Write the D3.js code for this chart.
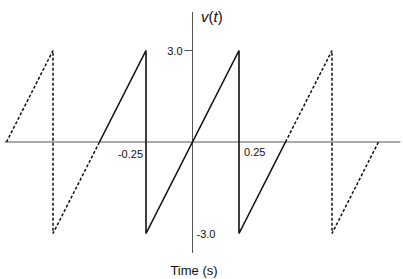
<!DOCTYPE html>
<html>
<head>
<meta charset="utf-8">
<script src="https://cdn.jsdelivr.net/npm/d3@7"></script>
<style>
  body { margin: 0; background: #fff; }
  svg { display: block; }
  text { font-family: "Liberation Sans", Arial, sans-serif; fill: #111; }
</style>
</head>
<body>
<svg id="chart" width="403" height="279"></svg>
<script>
// sawtooth, period 0.5 s, amplitude 3 V
const solidT = [-0.5, -0.25, -0.25, 0.25, 0.25, 0.5];
const solidV = [0, 3, -3, 3, -3, 0];
const dashLeftT = [-1.0, -0.75, -0.75, -0.5];
const dashLeftV = [0, 3, -3, 0];
const dashRightT = [0.5, 0.75, 0.75, 1.0];
const dashRightV = [0, 3, -3, 0];

const xTicks = [-0.25, 0.25];
const xTickLabels = ["-0.25", "0.25"];
const yTicks = [3, -3];
const yTickLabels = ["3.0", "-3.0"];

const svg = d3.select("#chart");

const x = d3.scaleLinear().domain([0, 1]).range([192.5, 378.5]);
const y = d3.scaleLinear().domain([0, 3]).range([142, 50.5]);

// axes
svg.append("line")
  .attr("x1", x(-1.01)).attr("x2", x(1.118))
  .attr("y1", y(0)).attr("y2", y(0))
  .attr("stroke", "#555").attr("stroke-width", 1);

svg.append("line")
  .attr("x1", x(0)).attr("x2", x(0))
  .attr("y1", y(4.26)).attr("y2", y(-3.64))
  .attr("stroke", "#555").attr("stroke-width", 1);

// tick at 3.0
svg.append("line")
  .attr("x1", x(0) - 8).attr("x2", x(0))
  .attr("y1", y(yTicks[0])).attr("y2", y(yTicks[0]))
  .attr("stroke", "#555").attr("stroke-width", 1);

const line = d3.line().x(d => x(d[0])).y(d => y(d[1]));
const zip = (ts, vs) => ts.map((t, i) => [t, vs[i]]);

svg.append("path")
  .attr("d", line(zip(solidT, solidV)))
  .attr("fill", "none").attr("stroke", "#111").attr("stroke-width", 1.6)
  .attr("stroke-linejoin", "miter");

[[dashLeftT, dashLeftV], [dashRightT, dashRightV]].forEach(s => {
  svg.append("path")
    .attr("d", line(zip(s[0], s[1])))
    .attr("fill", "none").attr("stroke", "#111").attr("stroke-width", 1.5)
    .attr("stroke-dasharray", "3,2");
});

// tick labels
svg.append("text")
  .attr("x", x(0) - 10).attr("y", y(yTicks[0]) + 4)
  .attr("text-anchor", "end").attr("font-size", 11)
  .text(yTickLabels[0]);

svg.append("text")
  .attr("x", x(0) + 4).attr("y", y(yTicks[1]) + 4)
  .attr("font-size", 11)
  .text(yTickLabels[1]);

svg.append("text")
  .attr("x", x(xTicks[0]) - 3).attr("y", y(0) + 16)
  .attr("text-anchor", "end").attr("font-size", 11)
  .text(xTickLabels[0]);

svg.append("text")
  .attr("x", x(xTicks[1]) + 5).attr("y", y(0) + 14)
  .attr("font-size", 11)
  .text(xTickLabels[1]);

// axis titles
const vt = svg.append("text")
  .attr("x", 201).attr("y", 22)
  .attr("font-size", 15).attr("font-style", "italic");
vt.append("tspan").text("v");
vt.append("tspan").attr("font-style", "normal").text("(");
vt.append("tspan").text("t");
vt.append("tspan").attr("font-style", "normal").text(")");

svg.append("text")
  .attr("x", 194).attr("y", 275)
  .attr("text-anchor", "middle").attr("font-size", 13)
  .text("Time (s)");
</script>
</body>
</html>
